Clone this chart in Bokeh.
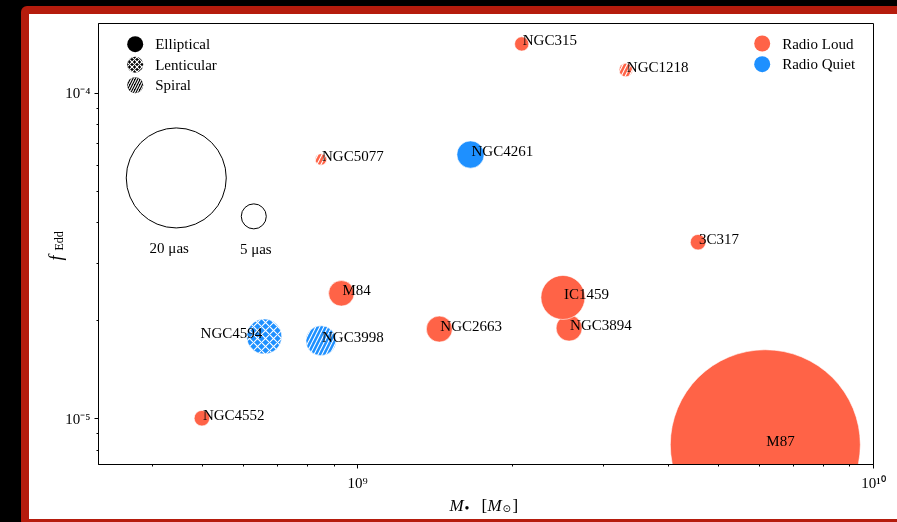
from math import pi, log10
from bokeh.plotting import figure
from bokeh.models import (ColumnDataSource, Range1d, FixedTicker, Label,
                          CDSView, BooleanFilter)
from bokeh.core.properties import value
from bokeh.embed import file_html
from bokeh.resources import INLINE

# ---------------- data ----------------
galaxy = ["NGC315", "NGC1218", "NGC4261", "NGC5077", "3C317", "M84", "NGC4594",
          "NGC3998", "NGC2663", "NGC3894", "IC1459", "NGC4552", "M87"]
bh_mass = [2.08e9, 3.31e9, 1.655e9, 8.49e8, 4.57e9, 9.30e8, 6.59e8,
           8.49e8, 1.44e9, 2.57e9, 2.50e9, 4.99e8, 6.17e9]
f_edd = [1.42e-4, 1.18e-4, 6.49e-5, 6.27e-5, 3.49e-5, 2.43e-5, 1.79e-5,
         1.738e-5, 1.887e-5, 1.90e-5, 2.36e-5, 1.004e-5, 8.32e-6]
theta_uas = [2.85, 2.7, 5.45, 2.3, 3.1, 5.1, 7.0, 6.0, 5.2, 5.2, 8.8, 3.1, 38.0]
morphology = ["Elliptical", "Spiral", "Elliptical", "Spiral", "Elliptical", "Elliptical",
              "Lenticular", "Spiral", "Elliptical", "Elliptical", "Elliptical",
              "Elliptical", "Elliptical"]
radio_class = ["Radio Loud", "Radio Loud", "Radio Quiet", "Radio Loud", "Radio Loud",
               "Radio Loud", "Radio Quiet", "Radio Quiet", "Radio Loud", "Radio Loud",
               "Radio Loud", "Radio Loud", "Radio Loud"]
label_side = ["left", "left", "left", "left", "left", "left", "right",
              "left", "left", "left", "left", "left", "left"]

morph_types = ["Elliptical", "Lenticular", "Spiral"]
radio_types = ["Radio Loud", "Radio Quiet"]

key_theta = [20, 5]
key_labels = ["20 \u03bcas", "5 \u03bcas"]
key_mass = [4.45e8, 6.29e8]
key_fedd = [5.50e-5, 4.19e-5]

x_major = [1e9, 1e10]
x_major_labels = ["10\u2079", "10\u00b9\u2070"]
x_minor = [4e8, 5e8, 6e8, 7e8, 8e8, 9e8, 2e9, 3e9, 4e9, 5e9, 6e9, 7e9, 8e9, 9e9]
y_major = [1e-5, 1e-4]
y_major_labels = ["10\u207b\u2075", "10\u207b\u2074"]
y_minor = [8e-6, 9e-6, 2e-5, 3e-5, 4e-5, 5e-5, 6e-5, 7e-5, 8e-5, 9e-5]

X_LIM = (3.145e8, 1e10)
Y_LIM = (7.234e-6, 1.641e-4)

# ---------------- styles / layout ----------------
RADIO_COLOR = {"Radio Loud": "#FF6347", "Radio Quiet": "#1E90FF"}
MORPH_HATCH = {"Elliptical": " ", "Lenticular": "x", "Spiral": "/"}
PX_PER_UAS = 5.0
SERIF = "Liberation Serif"
RED = "#b51c0d"
HATCH_SCALE = 8
HATCH_WEIGHT = 1.1
W, H = 868, 505
LEFT, TOP = 29, 14           # canvas position on the page
FRAME_W, FRAME_H = 775, 441
LEGEND_MARKER = 16


def frame_px(dx, dy):
    """Pixel offset from the frame's top-left corner -> data coordinates."""
    lx = log10(X_LIM[0]) + dx / FRAME_W * (log10(X_LIM[1]) - log10(X_LIM[0]))
    ly = log10(Y_LIM[1]) - dy / FRAME_H * (log10(Y_LIM[1]) - log10(Y_LIM[0]))
    return 10 ** lx, 10 ** ly


p = figure(width=W, height=H, x_axis_type="log", y_axis_type="log",
           x_range=Range1d(*X_LIM), y_range=Range1d(*Y_LIM),
           output_backend="svg", toolbar_location=None,
           min_border_left=69, min_border_right=24, min_border_top=9,
           min_border_bottom=55)
p.grid.visible = False
p.background_fill_color = "white"
p.border_fill_color = "white"
p.outline_line_color = "black"
p.outline_line_width = 1

for ax in (p.xaxis[0], p.yaxis[0]):
    ax.major_tick_in = 0
    ax.major_tick_out = 4
    ax.minor_tick_in = 0
    ax.minor_tick_out = 2
    ax.axis_line_color = "black"
    ax.major_tick_line_color = "black"
    ax.minor_tick_line_color = "black"
    ax.major_label_text_font = SERIF
    ax.major_label_text_font_size = "15px"
    ax.major_label_text_color = "black"
p.xaxis.ticker = FixedTicker(ticks=x_major, minor_ticks=x_minor)
p.yaxis.ticker = FixedTicker(ticks=y_major, minor_ticks=y_minor)
p.xaxis.major_label_overrides = dict(zip(x_major, x_major_labels))
p.yaxis.major_label_overrides = dict(zip(y_major, y_major_labels))
p.xaxis.major_label_standoff = 6
p.yaxis.major_label_standoff = 4

# ---------------- galaxies ----------------
src = ColumnDataSource(dict(
    x=bh_mass, y=f_edd, name=galaxy,
    size=[t * PX_PER_UAS for t in theta_uas],
    color=[RADIO_COLOR[r] for r in radio_class],
    hatch=[MORPH_HATCH[m] for m in morphology],
))
p.scatter("x", "y", source=src, size="size", marker="circle", fill_color="color",
          line_color="white", line_width=0.6, hatch_pattern="hatch",
          hatch_color="white", hatch_scale=HATCH_SCALE, hatch_weight=HATCH_WEIGHT)

for side, dx in (("left", 1), ("right", -2)):
    view = CDSView(filter=BooleanFilter([s == side for s in label_side]))
    p.text("x", "y", text="name", source=src, view=view, text_align=side,
           text_baseline="alphabetic", x_offset=dx, y_offset=-3.5,
           text_font=value(SERIF), text_font_size="15px", text_color="black")

# ---------------- size key ----------------
ksrc = ColumnDataSource(dict(
    x=key_mass, y=key_fedd, label=key_labels,
    size=[t * PX_PER_UAS for t in key_theta],
    yoff=[t * PX_PER_UAS / 2 + 20 for t in key_theta],
    xoff=[-7, 2],
))
p.scatter("x", "y", source=ksrc, size="size", marker="circle", fill_color=None,
          line_color="black", line_width=1)
p.text("x", "y", text="label", source=ksrc, x_offset="xoff", y_offset="yoff",
       text_align="center", text_baseline="alphabetic", text_font=value(SERIF),
       text_font_size="15px", text_color="black")


# ---------------- legends (drawn by hand) ----------------
def lab(fig, x, y, text, size, italic=False, angle=0.0, font=SERIF,
        baseline="alphabetic", units="screen"):
    fig.add_layout(Label(x=x, y=y, x_units=units, y_units=units, text=text,
                         angle=angle, text_font=font, text_font_size=size,
                         text_font_style="italic" if italic else "normal",
                         text_baseline=baseline, text_align="left",
                         text_color="black"))


def legend(entries, dx, dy0, step):
    xs, ys, fills, hatches = [], [], [], []
    for i, (name, fill, hatch) in enumerate(entries):
        x, y = frame_px(dx, dy0 + i * step)
        xs.append(x)
        ys.append(y)
        fills.append(fill)
        hatches.append(hatch)
        lab(p, dx + 20, FRAME_H - (dy0 + i * step), name, "15px", baseline="middle")
    lsrc = ColumnDataSource(dict(x=xs, y=ys, fill=fills, hatch=hatches))
    p.scatter("x", "y", source=lsrc, size=LEGEND_MARKER, marker="circle",
              fill_color="fill", line_color=None, hatch_pattern="hatch",
              hatch_color="white", hatch_scale=5, hatch_weight=1.1)


legend([(m, "black", MORPH_HATCH[m]) for m in morph_types], 36.7, 20.7, 20.5)
legend([(r, RADIO_COLOR[r], " ") for r in radio_types], 663.7, 20.0, 20.7)

# ---------- axis labels: transparent overlay (page-pixel coordinates) ----------
ov = figure(width=W, height=H, x_range=Range1d(LEFT, LEFT + W),
            y_range=Range1d(TOP + H, TOP),
            output_backend="svg", toolbar_location=None,
            x_axis_location=None, y_axis_location=None,
            min_border=0, min_border_left=0, min_border_right=0,
            min_border_top=0, min_border_bottom=0)
ov.grid.visible = False
ov.outline_line_color = None
ov.background_fill_alpha = 0
ov.border_fill_alpha = 0
ov.styles = {"position": "fixed", "left": f"{LEFT}px", "top": f"{TOP}px",
             "pointer-events": "none", "background": "transparent"}


def olab(px, py, text, size, **kw):
    lab(ov, px, py, text, size, units="data", **kw)


# y label: f_Edd (rotated)
olab(55, 260, "f", "18px", italic=True, angle=pi / 2)
olab(58, 250, "Edd", "12px", angle=pi / 2)
# x label: M_bullet [M_sun]
olab(449, 505, "M", "17px", italic=True)
olab(464, 508, "\u2022", "14px")
olab(481, 505, "[", "17px")
olab(487, 505, "M", "17px", italic=True)
olab(502, 508, "\u2299", "10px", font="DejaVu Sans")
olab(512, 505, "]", "17px")

html = file_html([p, ov], INLINE, title="f_Edd vs M_BH")
css = ("<style>html{background:#000;}"
       "html,body{margin:0;padding:0;overflow:hidden;}"
       "body{padding:14px 0 0 29px;}"
       "body::before{content:'';position:fixed;left:21px;top:6px;width:900px;"
       "height:505px;border:8px solid " + RED + ";border-radius:6px;"
       "background:#fff;z-index:-1;}</style>")
html = html.replace("</head>", css + "</head>", 1)
open("out.html", "w").write(html)
